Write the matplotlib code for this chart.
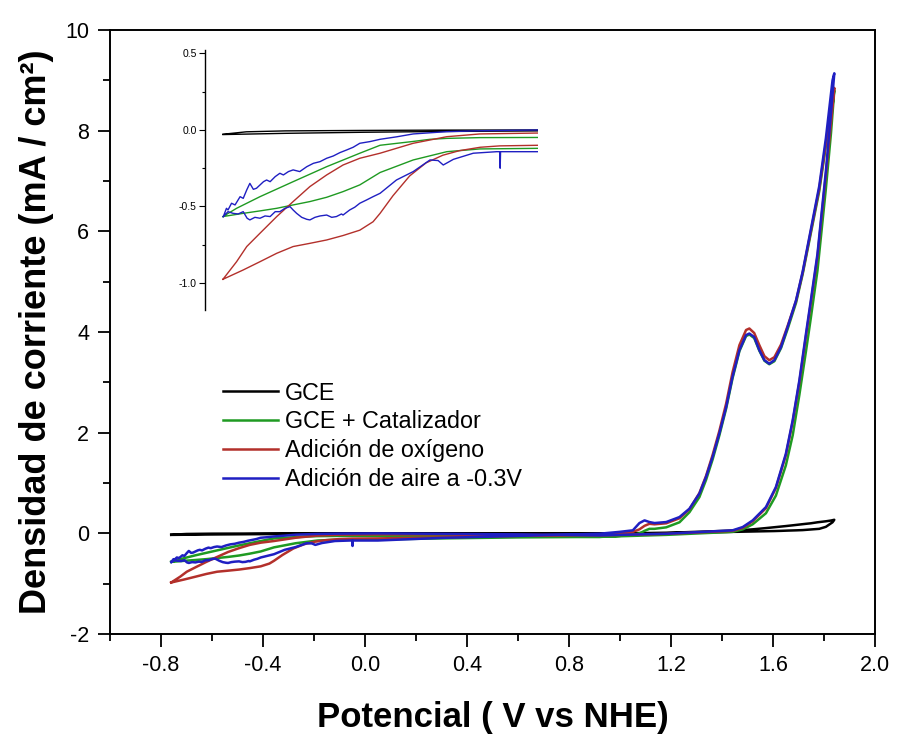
import numpy as np
import matplotlib
matplotlib.use("Agg")
import matplotlib.pyplot as plt
from matplotlib.ticker import MultipleLocator, FormatStrFormatter

plt.rcParams['font.family'] = ['Liberation Sans', 'DejaVu Sans']
plt.rcParams['axes.unicode_minus'] = False

labels = ["GCE", "GCE + Catalizador", "Adición de oxígeno", "Adición de aire a -0.3V"]
colors = ["#000000", "#1f9a22", "#b3302b", "#1f1fc2"]

# --- negative region (ORR) ---
# anodic branch (upper) from -0.76 V up to 0.05 V
gce_up_v = [-0.76, -0.70, -0.60, -0.40, -0.20, 0.05]
gce_up_j = [-0.028, -0.012, -0.006, -0.003, -0.001, 0.0]
cat_up_v = [-0.76, -0.725, -0.665, -0.580, -0.494, -0.409, -0.357, -0.272, -0.229, -0.186, -0.101, 0.05]
cat_up_j = [-0.566, -0.512, -0.436, -0.338, -0.240, -0.152, -0.10, -0.075, -0.061, -0.055, -0.05, -0.049]
oxi_up_v = [-0.76, -0.725, -0.699, -0.665, -0.622, -0.580, -0.537, -0.494, -0.452, -0.409, -0.357, -0.272, -0.186, -0.101, 0.05]
oxi_up_j = [-0.976, -0.861, -0.762, -0.675, -0.566, -0.468, -0.370, -0.294, -0.229, -0.185, -0.152, -0.087, -0.044, -0.026, -0.02]
air_up_v = [-0.759, -0.751, -0.747, -0.738, -0.729, -0.716, -0.708, -0.699, -0.691, -0.682, -0.674, -0.665,
            -0.656, -0.648, -0.639, -0.626, -0.614, -0.605, -0.592, -0.580, -0.563, -0.545, -0.528, -0.511,
            -0.494, -0.477, -0.460, -0.443, -0.426, -0.409, -0.383, -0.357, -0.315, -0.272, -0.186, -0.10, 0.05]
air_up_j = [-0.566, -0.512, -0.523, -0.479, -0.490, -0.436, -0.447, -0.392, -0.349, -0.388, -0.381, -0.359,
            -0.338, -0.327, -0.338, -0.305, -0.283, -0.294, -0.272, -0.261, -0.272, -0.240, -0.218, -0.207,
            -0.185, -0.170, -0.148, -0.131, -0.113, -0.087, -0.076, -0.061, -0.045, -0.026, -0.011, -0.005, 0.0]

# cathodic branch (lower), from 0.05 V back to -0.76 V (listed left to right)
gce_dn_v = [-0.76, -0.60, -0.40, -0.20, 0.05]
gce_dn_j = [-0.03, -0.022, -0.015, -0.010, -0.006]
cat_dn_v = [-0.76, -0.708, -0.665, -0.622, -0.580, -0.537, -0.494, -0.452, -0.409, -0.357, -0.272, -0.186, -0.101, 0.05]
cat_dn_j = [-0.566, -0.545, -0.529, -0.512, -0.490, -0.468, -0.440, -0.403, -0.359, -0.278, -0.196, -0.142, -0.124, -0.12]
oxi_dn_v = [-0.76, -0.708, -0.665, -0.622, -0.580, -0.537, -0.494, -0.452, -0.409, -0.375, -0.357, -0.324,
            -0.281, -0.239, -0.196, -0.153, -0.10, -0.05, 0.05]
oxi_dn_j = [-0.976, -0.915, -0.861, -0.806, -0.762, -0.741, -0.719, -0.690, -0.655, -0.600, -0.545, -0.43,
            -0.30, -0.215, -0.165, -0.135, -0.113, -0.104, -0.10]
air_dn_v = [-0.759, -0.747, -0.734, -0.721, -0.708, -0.698, -0.691, -0.678, -0.665, -0.652, -0.639, -0.626,
            -0.614, -0.601, -0.588, -0.580, -0.571, -0.558, -0.545, -0.537, -0.524, -0.511, -0.494, -0.481,
            -0.469, -0.456, -0.452, -0.435, -0.422, -0.409, -0.392, -0.375, -0.357, -0.315, -0.272, -0.229,
            -0.208, -0.195, -0.169, -0.118, -0.058, -0.050, -0.049, -0.048, 0.05]
air_dn_j = [-0.566, -0.534, -0.545, -0.549, -0.534, -0.577, -0.588, -0.571, -0.577, -0.562, -0.566, -0.534,
            -0.534, -0.512, -0.501, -0.523, -0.545, -0.571, -0.584, -0.588, -0.571, -0.562, -0.556, -0.571,
            -0.566, -0.549, -0.556, -0.523, -0.505, -0.479, -0.458, -0.436, -0.414, -0.327, -0.272, -0.196,
            -0.200, -0.229, -0.192, -0.152, -0.142, -0.142, -0.25, -0.142, -0.142]

# --- positive region (OER side) ---
fwd_v = [0.05, 0.3, 0.6, 0.919, 1.181, 1.441, 1.481, 1.520, 1.572, 1.611, 1.650, 1.677, 1.703, 1.729,
         1.748, 1.774, 1.807, 1.827, 1.84]
gce_fwd_j = [0.0, 0.0, 0.0, 0.0, 0.01, 0.055, 0.065, 0.08, 0.105, 0.125, 0.145, 0.16, 0.175, 0.19,
             0.20, 0.22, 0.24, 0.255, 0.27]
cat_fwd_j = [-0.049, -0.05, -0.06, -0.07, -0.03, 0.03, 0.08, 0.18, 0.40, 0.75, 1.35, 1.95, 2.75, 3.62,
             4.28, 5.22, 6.85, 7.95, 8.8]
oxi_fwd_j = [-0.02, -0.02, -0.03, -0.04, -0.01, 0.05, 0.11, 0.24, 0.50, 0.90, 1.55, 2.22, 3.00, 3.92,
             4.58, 5.50, 7.12, 8.15, 8.85]
air_fwd_j = [0.0, -0.01, -0.02, -0.04, -0.007, 0.06, 0.126, 0.258, 0.523, 0.92, 1.58, 2.25, 3.04, 3.97,
             4.63, 5.55, 7.20, 8.35, 9.14]

rev_v = [1.84, 1.833, 1.807, 1.781, 1.716, 1.690, 1.657, 1.631, 1.605, 1.585, 1.566, 1.546, 1.526, 1.507,
         1.494, 1.468, 1.441, 1.416, 1.389, 1.363, 1.337, 1.311, 1.272, 1.233, 1.181, 1.135, 1.115, 1.096,
         1.076, 1.050, 0.998, 0.919, 0.6, 0.3, 0.05]
gce_rev_j = [0.27, 0.22, 0.13, 0.09, 0.065, 0.06, 0.055, 0.05, 0.046, 0.044, 0.042, 0.04, 0.038, 0.036,
             0.035, 0.032, 0.03, 0.027, 0.025, 0.022, 0.02, 0.015, 0.012, 0.008, 0.005, 0.003, 0.002, 0.0,
             0.0, -0.002, -0.003, -0.005, -0.006, -0.006, -0.006]
cat_rev_j = [8.8, 8.5, 7.7, 6.8, 5.15, 4.58, 4.06, 3.68, 3.42, 3.36, 3.43, 3.63, 3.88, 3.95,
             3.92, 3.62, 3.08, 2.48, 1.94, 1.47, 1.06, 0.72, 0.42, 0.22, 0.12, 0.09, 0.09, 0.05,
             0.0, -0.03, -0.05, -0.07, -0.08, -0.10, -0.12]
oxi_rev_j = [8.85, 8.55, 7.75, 6.85, 5.18, 4.62, 4.12, 3.75, 3.50, 3.44, 3.52, 3.74, 3.98, 4.07,
             4.04, 3.74, 3.20, 2.58, 2.03, 1.56, 1.14, 0.80, 0.48, 0.30, 0.20, 0.18, 0.19, 0.15,
             0.08, 0.03, 0.01, -0.02, -0.05, -0.08, -0.10]
air_rev_j = [9.14, 9.0, 7.85, 6.9, 5.2, 4.63, 4.10, 3.70, 3.44, 3.37, 3.44, 3.64, 3.90, 3.97,
             3.94, 3.64, 3.11, 2.51, 1.98, 1.52, 1.12, 0.79, 0.49, 0.324, 0.225, 0.205, 0.225, 0.258,
             0.205, 0.06, 0.03, -0.007, -0.05, -0.09, -0.142]


def loop(up_v, up_j, fwd_j, rev_j, dn_v, dn_j):
    # closed CV loop: anodic sweep from -0.76 to 1.84 V and back
    v = list(up_v) + fwd_v[1:] + rev_v[1:] + list(dn_v[::-1])[1:]
    j = list(up_j) + fwd_j[1:] + rev_j[1:] + list(dn_j[::-1])[1:]
    return np.array(v), np.array(j)


curves = [
    loop(gce_up_v, gce_up_j, gce_fwd_j, gce_rev_j, gce_dn_v, gce_dn_j),
    loop(cat_up_v, cat_up_j, cat_fwd_j, cat_rev_j, cat_dn_v, cat_dn_j),
    loop(oxi_up_v, oxi_up_j, oxi_fwd_j, oxi_rev_j, oxi_dn_v, oxi_dn_j),
    loop(air_up_v, air_up_j, air_fwd_j, air_rev_j, air_dn_v, air_dn_j),
]

fig = plt.figure(figsize=(8.98, 7.37), dpi=100)
ax = fig.add_axes([0.1225, 0.1397, 0.852, 0.8196])

for (v, j), c, lab in zip(curves, colors, labels):
    ax.plot(v, j, color=c, lw=1.8, label=lab)

ax.set_xlim(-1.0, 2.0)
ax.set_ylim(-2, 10)
ax.xaxis.set_minor_locator(MultipleLocator(0.2))
ax.yaxis.set_major_locator(MultipleLocator(2))
ax.yaxis.set_minor_locator(MultipleLocator(1))
ax.set_xticks(np.arange(-0.8, 2.01, 0.4))
ax.xaxis.set_major_formatter(FormatStrFormatter('%.1f'))
ax.tick_params(which='major', direction='out', length=9, width=1.3, labelsize=15.5, pad=6)
ax.tick_params(which='minor', direction='out', length=5, width=1.3)
ax.tick_params(top=False, right=False)
for s in ax.spines.values():
    s.set_linewidth(1.4)

ax.set_xlabel("Potencial ( V vs NHE)", fontsize=25, fontweight='bold', labelpad=18)
ax.set_ylabel("Densidad de corriente (mA / cm²)", fontsize=26, fontweight='bold', labelpad=8)

ax.legend(loc='upper left', bbox_to_anchor=(0.148, 0.418), frameon=False, fontsize=16.8,
          handlelength=2.35, handletextpad=0.3, labelspacing=0.25, borderpad=0, borderaxespad=0)

# inset: zoom on the negative region
ins = fig.add_axes([0.2283, 0.5787, 0.3708, 0.3529])
for (v, j), c in zip(curves, colors):
    ins.plot(v, j, color=c, lw=1.0)
ins.set_xlim(-0.806, 0.048)
ins.set_ylim(-1.18, 0.52)
ins.patch.set_alpha(0)
for side in ['top', 'right', 'bottom']:
    ins.spines[side].set_visible(False)
ins.spines['left'].set_linewidth(1.0)
ins.set_xticks([])
ins.yaxis.set_major_locator(MultipleLocator(0.5))
ins.yaxis.set_minor_locator(MultipleLocator(0.25))
ins.yaxis.set_major_formatter(FormatStrFormatter('%.1f'))
ins.tick_params(which='major', direction='out', length=4, width=0.8, labelsize=7.5, pad=2)
ins.tick_params(which='minor', direction='out', length=2.5, width=0.8)

fig.savefig("out.png", dpi=100)
